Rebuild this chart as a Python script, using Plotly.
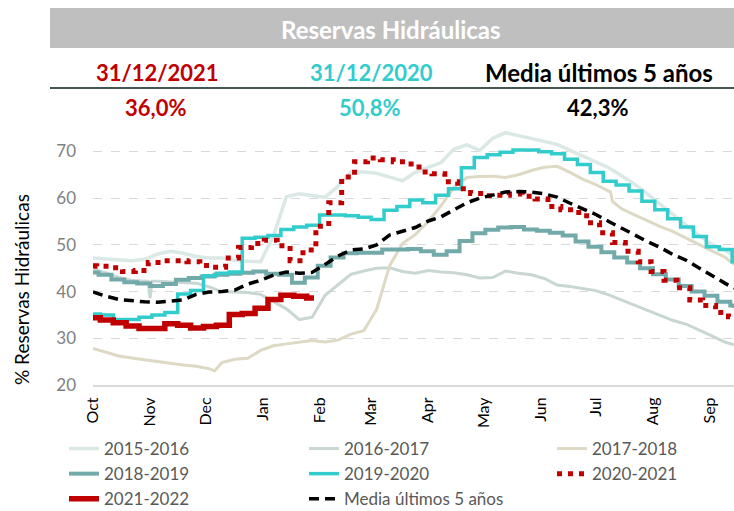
import plotly.graph_objects as go

# ---------------- data ----------------
MONTHS = ["Oct", "Nov", "Dec", "Jan", "Feb", "Mar", "Apr", "May", "Jun", "Jul", "Aug", "Sep"]
MONTH_START_DAY = [0, 31, 61, 92, 123, 151, 182, 212, 243, 273, 304, 335]
LAST_DAY = 348          # last day shown (days counted from 1 Oct)
N_WEEKS = 50

# smooth series: values every 7 days (day 0,7,...,343) + value at LAST_DAY
S2015_2016 = [47.2, 47.0, 46.9, 46.6, 46.9, 48.0, 48.6, 48.2, 47.5, 47.2,
              47.2, 46.7, 46.5, 46.4, 52.0, 60.3, 60.9, 60.6, 60.2, 62.5,
              65.6, 65.6, 65.3, 64.5, 63.7, 65.5, 66.6, 67.6, 70.5, 71.4,
              70.2, 72.8, 74.0, 73.4, 72.8, 72.2, 71.5, 70.2, 68.9, 67.7,
              66.5, 64.8, 63.0, 60.9, 58.6, 56.3, 54.2, 52.0, 50.1, 49.0, 47.5]
S2016_2017 = [44.8, 44.0, 43.0, 42.4, 42.2, 42.2, 42.1, 42.0, 41.8, 41.0,
              40.0, 39.9, 39.8, 39.4, 37.8, 36.3, 34.0, 34.5, 39.2, 41.5,
              43.7, 44.4, 45.0, 45.1, 44.3, 43.9, 44.5, 44.2, 44.0, 43.6,
              42.9, 43.0, 44.4, 43.9, 43.6, 42.8, 41.4, 41.1, 40.7, 40.2,
              39.3, 38.2, 37.1, 36.0, 34.9, 33.8, 33.0, 31.8, 30.5, 29.2, 28.6]
S2016_2017_EXTRA_DAYS = [30, 31, 32]
S2016_2017_EXTRA_VALS = [42.2, 38.6, 42.2]
S2017_2018 = [27.8, 27.0, 26.2, 25.8, 25.4, 25.0, 24.7, 24.3, 24.0, 23.5,
              24.8, 25.5, 25.7, 27.4, 28.4, 28.8, 29.2, 29.5, 29.2, 29.6,
              30.9, 31.6, 36.2, 45.5, 50.3, 52.2, 55.0, 58.4, 62.3, 64.4,
              64.6, 64.7, 64.4, 65.0, 65.9, 66.6, 66.8, 65.5, 64.0, 62.9,
              61.5, 57.7, 56.4, 55.1, 53.9, 52.8, 51.4, 50.1, 48.7, 47.4, 45.8]
S2017_2018_EXTRA_DAYS = [66, 281, 282]
S2017_2018_EXTRA_VALS = [23.0, 61.3, 59.3]
MEDIA_5 = [39.9, 39.0, 38.3, 38.0, 37.8, 37.7, 38.0, 38.2, 39.4, 39.9,
           40.0, 40.3, 41.6, 42.4, 43.5, 44.2, 43.9, 44.1, 45.8, 47.6,
           48.9, 49.1, 50.0, 52.1, 52.9, 53.7, 55.1, 56.0, 57.5, 59.0,
           60.0, 60.7, 61.3, 61.4, 61.3, 60.9, 60.2, 58.9, 57.8, 56.5,
           55.0, 53.5, 52.1, 50.7, 49.4, 47.9, 46.7, 45.0, 43.3, 41.8, 40.7]

# weekly (stepped) series: value on day 0, then weekly values from the first report day
S2018_2019_START, S2018_2019_FIRST_DAY = 44.1, 3
S2018_2019 = [43.6, 42.6, 42.0, 41.7, 41.2, 41.6, 42.5, 42.9, 43.2, 43.6,
              43.8, 44.0, 44.3, 43.8, 43.6, 41.9, 43.0, 45.5, 47.3, 48.2,
              48.3, 48.3, 49.0, 49.0, 49.1, 48.6, 47.9, 48.6, 50.8, 52.5,
              53.2, 53.7, 53.8, 53.3, 53.0, 52.6, 52.0, 50.7, 49.6, 48.4,
              47.3, 46.2, 45.0, 43.7, 42.6, 41.2, 40.0, 39.1, 37.8, 37.0]
S2018_2019_END = 36.5
S2019_2020_START, S2019_2020_FIRST_DAY = 35.2, 4
S2019_2020 = [35.0, 34.0, 34.0, 34.5, 35.0, 35.5, 39.5, 40.2, 43.4, 43.9,
              44.2, 51.4, 51.6, 52.0, 53.3, 53.8, 54.2, 56.4, 56.4, 56.2,
              55.9, 55.4, 57.4, 58.2, 59.6, 59.0, 60.6, 62.0, 66.5, 68.7,
              69.3, 69.8, 70.3, 70.3, 69.9, 69.5, 68.3, 67.2, 65.5, 63.6,
              62.8, 61.5, 59.3, 57.5, 55.6, 53.8, 51.8, 49.6, 49.0, 46.4]
S2019_2020_END = 46.4
S2020_2021_START, S2020_2021_FIRST_DAY = 45.5, 2
S2020_2021 = [45.4, 45.1, 44.3, 44.5, 46.2, 46.6, 46.6, 46.4, 45.6, 45.2,
              47.2, 49.4, 50.3, 51.0, 49.8, 46.6, 48.9, 54.0, 59.0, 64.5,
              67.8, 68.6, 68.2, 67.8, 67.3, 65.6, 65.2, 63.5, 62.0, 61.0,
              60.5, 60.6, 60.9, 60.4, 59.8, 58.2, 57.5, 56.9, 54.7, 52.6,
              50.5, 48.6, 46.4, 44.3, 42.4, 40.8, 38.2, 37.0, 35.5, 34.6]
S2020_2021_END = 34.6
S2021_2022_START, S2021_2022_FIRST_DAY = 34.4, 4
S2021_2022 = [33.9, 33.3, 32.6, 32.1, 32.1, 33.1, 32.8, 32.2, 32.5, 32.8,
              35.1, 35.3, 36.4, 38.3, 39.2, 39.0, 38.6]
S2021_2022_LAST_DAY, S2021_2022_END = 120, 38.6

HEADER_TITLE = "Reservas Hidráulicas"
HEADER_LABELS = ["31/12/2021", "31/12/2020", "Media últimos 5 años"]
HEADER_VALUES = ["36,0%", "50,8%", "42,3%"]

# ---------------- helpers ----------------
WEEK_DAYS = [7 * k for k in range(N_WEEKS)] + [LAST_DAY]


def merged(vals, extra_days=(), extra_vals=()):
    pts = sorted(list(zip(WEEK_DAYS, vals)) + list(zip(extra_days, extra_vals)))
    return [p[0] for p in pts], [p[1] for p in pts]


def stepped(start, first_day, vals, end_day, end_val):
    days = [0] + [first_day + 7 * k for k in range(len(vals))] + [end_day]
    return days, [start] + list(vals) + [end_val]


FONT = "Lato, 'Open Sans', sans-serif"
fig = go.Figure()


def add(name, xy, color, width, legend, dash="solid", shape="linear"):
    fig.add_trace(go.Scatter(x=xy[0], y=xy[1], mode="lines", name=name,
                             line=dict(color=color, width=width, dash=dash, shape=shape),
                             legend=legend, legendgroup=name, hoverinfo="skip"))


# legend columns: legend = col 1, legend2 = col 2, legend3 = col 3
add("2015-2016", merged(S2015_2016), "#DAE8E6", 3.5, "legend")
add("2016-2017", merged(S2016_2017, S2016_2017_EXTRA_DAYS, S2016_2017_EXTRA_VALS), "#C8D7D3", 3, "legend2")
add("2017-2018", merged(S2017_2018, S2017_2018_EXTRA_DAYS, S2017_2018_EXTRA_VALS), "#DDD9C4", 3, "legend3")
add("2018-2019", stepped(S2018_2019_START, S2018_2019_FIRST_DAY, S2018_2019, LAST_DAY, S2018_2019_END),
    "#72AAAA", 4, "legend", shape="hv")
add("2019-2020", stepped(S2019_2020_START, S2019_2020_FIRST_DAY, S2019_2020, LAST_DAY, S2019_2020_END),
    "#33CCCC", 3.5, "legend2", shape="hv")
add("2020-2021", stepped(S2020_2021_START, S2020_2021_FIRST_DAY, S2020_2021, LAST_DAY, S2020_2021_END),
    "#C00000", 5, "legend3", dash="5px,6px", shape="hv")
add("2021-2022", stepped(S2021_2022_START, S2021_2022_FIRST_DAY, S2021_2022, S2021_2022_LAST_DAY, S2021_2022_END),
    "#C00000", 5.5, "legend", shape="hv")
add("Media últimos 5 años", merged(MEDIA_5), "#000000", 3.5, "legend2", dash="10px,6px")

# ---------------- layout (pixel geometry) ----------------
W, H = 734, 511
PL, PR, PT, PB = 93, 734, 128, 385   # plot area in pixels


def px(x):
    return (x - PL) / (PR - PL)


def py(y):
    return (PB - y) / (PB - PT)


annotations = [
    dict(text="<b>%s</b>" % HEADER_TITLE, x=px(391), y=py(29), font=dict(color="white", size=24, family=FONT)),
]
label_cols = ["#C00000", "#33CCCC", "#000000"]
label_x = [157, 371, 599]
label_size = [22, 22, 24]
for t, v, c, xx, s in zip(HEADER_LABELS, HEADER_VALUES, label_cols, label_x, label_size):
    annotations.append(dict(text="<b>%s</b>" % t, x=px(xx), y=py(72), font=dict(color=c, size=s, family=FONT)))
    annotations.append(dict(text="<b>%s</b>" % v, x=px(xx - 2), y=py(107), font=dict(color=c, size=22, family=FONT)))
annotations.append(dict(text="% Reservas Hidráulicas", x=px(21), y=py(290), textangle=-90,
                        font=dict(color="#000000", size=19, family=FONT)))
for a in annotations:
    a.update(xref="paper", yref="paper", showarrow=False, xanchor="center", yanchor="middle")

shapes = [
    dict(type="rect", xref="paper", yref="paper", x0=px(50), x1=px(734), y0=py(48), y1=py(8),
         fillcolor="#BFBFBF", line=dict(width=0), layer="below"),
    dict(type="line", xref="paper", yref="paper", x0=px(50), x1=px(734), y0=py(88), y1=py(88),
         line=dict(color="#44574F", width=2)),
]

leg_common = dict(orientation="v", xanchor="left", yanchor="top", y=py(431), tracegroupgap=0,
                  font=dict(size=17, color="#595959", family=FONT),
                  bgcolor="rgba(0,0,0,0)", itemclick=False, itemdoubleclick=False)

fig.update_layout(
    width=W, height=H,
    margin=dict(l=PL, r=W - PR, t=PT, b=H - PB, autoexpand=False),
    plot_bgcolor="white", paper_bgcolor="white",
    showlegend=True,
    legend=dict(leg_common, x=px(64)),
    legend2=dict(leg_common, x=px(304)),
    legend3=dict(leg_common, x=px(552)),
    annotations=annotations, shapes=shapes,
    xaxis=dict(range=[0, LAST_DAY], tickvals=MONTH_START_DAY, ticktext=MONTHS, tickangle=-90,
               showgrid=False, zeroline=False, showline=True, linecolor="#D9D9D9", linewidth=2,
               ticks="", ticklabelstandoff=4, tickfont=dict(size=16, color="#000000", family=FONT)),
    yaxis=dict(range=[20, 75], tickvals=[20, 30, 40, 50, 60, 70], showgrid=True,
               gridcolor="#D9D9D9", griddash="dash", gridwidth=1, zeroline=False,
               ticks="", ticklabelstandoff=16,
               tickfont=dict(size=17, color="#808080", family=FONT), tickprefix="<b>", ticksuffix="</b>"),
)

fig.write_html("out.html", config={"displayModeBar": False},
               post_script="document.body.style.margin='0px';")
